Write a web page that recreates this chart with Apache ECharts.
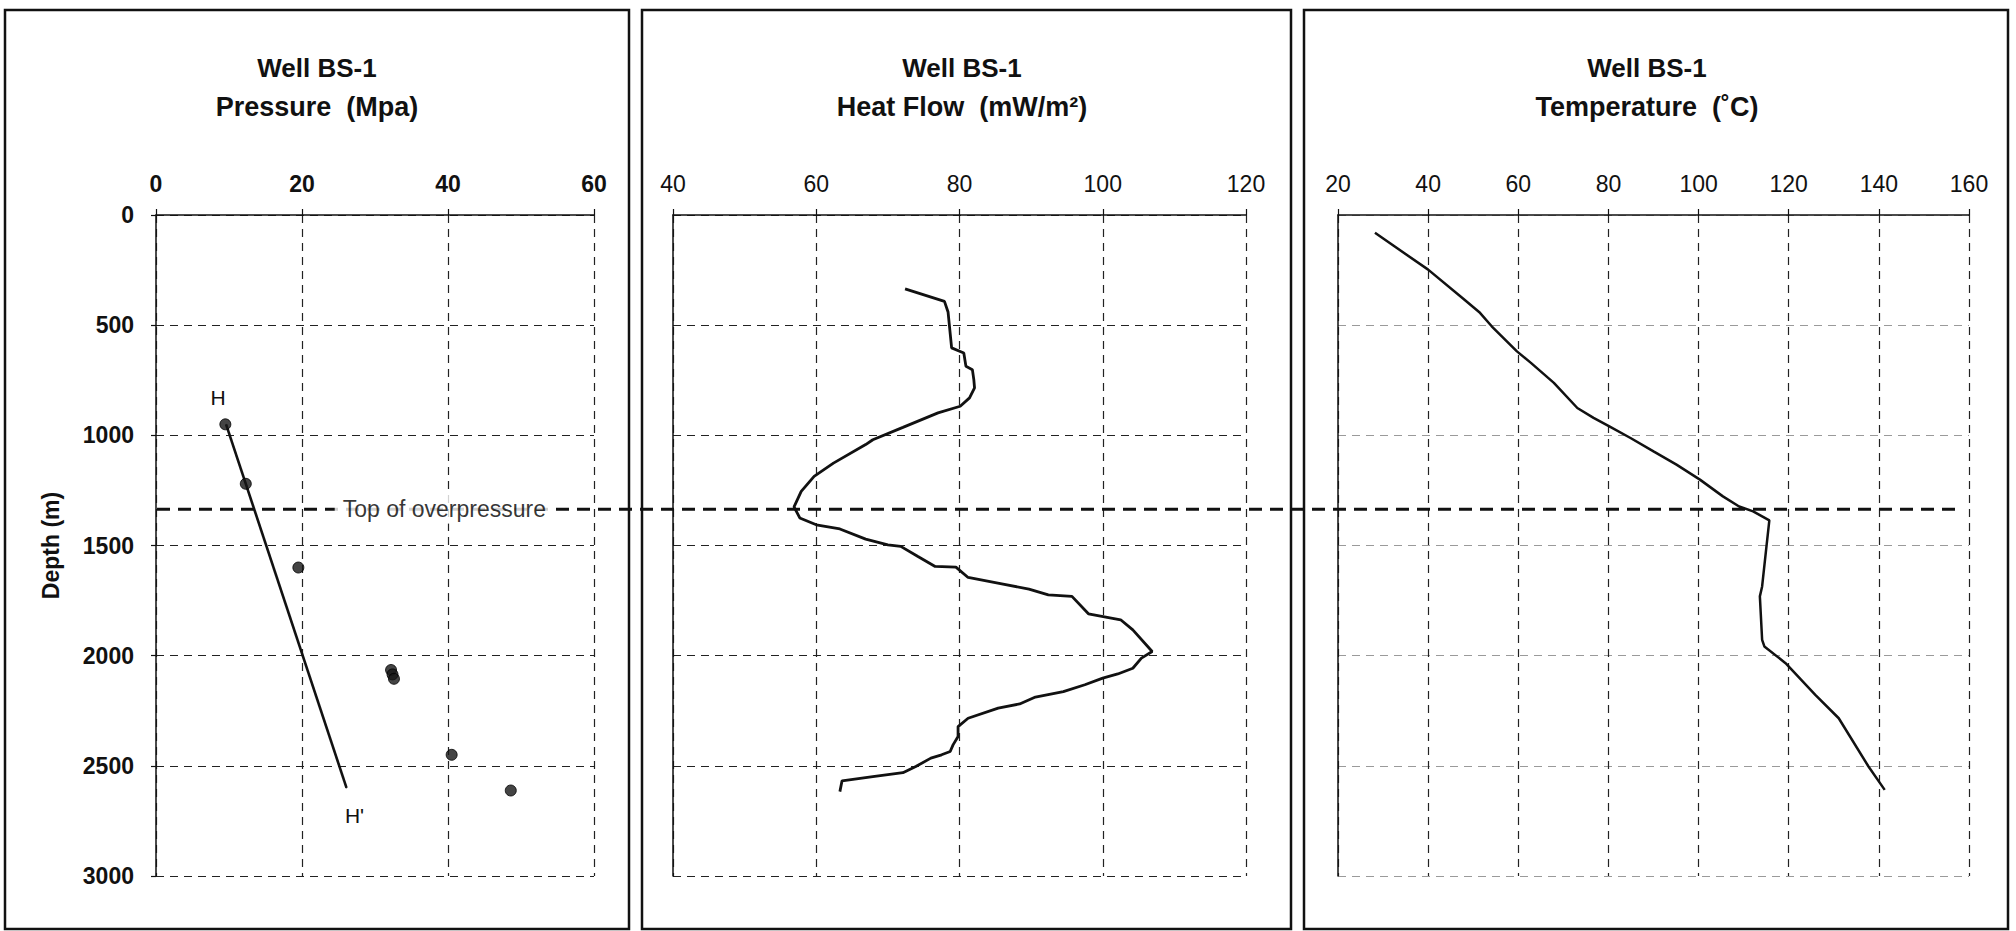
<!DOCTYPE html>
<html>
<head>
<meta charset="utf-8">
<script src="https://cdn.jsdelivr.net/npm/echarts@6/dist/echarts.min.js"></script>
<style>
  html, body { margin: 0; padding: 0; background: #fff; }
  #chart { width: 2016px; height: 931px; }
</style>
</head>
<body>
<div id="chart"></div>
<script>
// ---- Well BS-1 logs ----
const wellName = 'Well BS-1';
const panelTitles = ['Pressure  (Mpa)', 'Heat Flow  (mW/m\u00B2)', 'Temperature  (\u02DAC)'];
const depthAxisName = 'Depth (m)';

// axis ranges: [min, max, interval]
const depthRange = [0, 3000, 500];
const pressureRange = [0, 60, 20];
const heatFlowRange = [40, 120, 20];
const temperatureRange = [20, 160, 20];

// measured pore pressure (MPa) vs depth (m)
const pressureValues = [9.5, 12.3, 19.5, 32.2, 32.4, 32.6, 40.5, 48.6];
const pressureDepths = [950, 1220, 1600, 2065, 2085, 2105, 2450, 2612];

// hydrostatic trend H - H'
const hydroValues = [9.6, 26.1];
const hydroDepths = [950, 2600];
const hydroLabels = ['H', "H'"];

// top of overpressure (m)
const overpressureTop = 1335;
const overpressureLabel = 'Top of overpressure';

// heat flow (mW/m2) vs depth (m)
const heatFlowValues = [72.4, 77.9, 78.4, 78.9, 80.6, 80.9, 81.8, 82.0, 82.1, 81.4, 80.1, 77.0, 72.1, 67.9,
  66.9, 62.4, 59.7, 57.9, 56.9, 57.7, 60.0, 63.3, 66.9, 70.0, 71.8, 74.2, 76.6, 79.5, 81.2, 85.9, 89.7,
  92.4, 95.7, 98.0, 102.5, 104.2, 106.9, 105.4, 104.2, 102.1, 100.0, 97.5, 94.5, 90.6, 88.4, 85.4, 81.2,
  79.8, 79.8, 79.1, 78.7, 77.5, 76.0, 73.9, 72.1, 67.9, 63.6, 63.3];
const heatFlowDepths = [335, 392, 440, 603, 626, 687, 702, 747, 785, 830, 868, 898, 964, 1020,
  1042, 1126, 1186, 1254, 1325, 1375, 1406, 1425, 1471, 1497, 1504, 1550, 1595, 1598, 1645, 1674, 1698,
  1724, 1731, 1810, 1837, 1883, 1981, 2011, 2057, 2083, 2102, 2132, 2163, 2188, 2219, 2238, 2284,
  2322, 2367, 2405, 2435, 2450, 2465, 2503, 2531, 2549, 2568, 2617];

// temperature (deg C) vs depth (m)
const temperatureValues = [28.2, 40.0, 47.8, 51.5, 54.1, 59.7, 62.8, 67.9, 73.1, 76.7, 80.2, 84.9, 90.0,
  95.1, 100.3, 105.4, 109.0, 112.1, 115.7, 115.1, 114.1, 113.6, 114.1, 114.6, 119.3, 125.9, 131.1, 137.7, 141.3];
const temperatureDepths = [81, 248, 380, 444, 505, 619, 671, 762, 876, 921, 959, 1012, 1073,
  1133, 1201, 1277, 1323, 1345, 1386, 1497, 1686, 1731, 1928, 1958, 2034, 2178, 2284, 2503, 2609];

// ---- layout ----
const FONT = '"Liberation Sans", Arial, sans-serif';
const INK = '#111';
const plotTop = 215, plotHeight = 661;
const grids = [
  { left: 156, top: plotTop, width: 438, height: plotHeight },
  { left: 673, top: plotTop, width: 573, height: plotHeight },
  { left: 1338, top: plotTop, width: 631, height: plotHeight },
  { left: 157, top: plotTop, width: 1805, height: plotHeight }   // overlay for the overpressure line
].map(g => Object.assign({ outerBoundsMode: 'none', containLabel: false }, g));

const frames = [[5, 624], [642, 649], [1304, 704]];
const titleCenters = [317, 962, 1647];
const zip = (xs, ys) => xs.map((x, i) => [x, ys[i]]);
const plain = v => String(v);

function xAxisFor(gridIndex, range, bold) {
  return {
    type: 'value', gridIndex, position: 'top',
    min: range[0], max: range[1], interval: range[2],
    axisLine: { show: true, onZero: false, lineStyle: { color: INK, width: 1.5 } },
    axisTick: { show: true, inside: false, length: 6, lineStyle: { color: INK, width: 1.2 } },
    axisLabel: { margin: 20, fontSize: 23, fontWeight: bold ? 'bold' : 'normal', color: INK, fontFamily: FONT, formatter: plain },
    splitLine: { show: true, lineStyle: { type: [8, 6], color: '#222', width: 1.2 } }
  };
}
function yAxisFor(gridIndex, withLabels, gridColor) {
  return {
    type: 'value', gridIndex, inverse: true,
    min: depthRange[0], max: depthRange[1], interval: depthRange[2],
    name: withLabels ? depthAxisName : '',
    nameLocation: 'middle', nameRotate: 90, nameGap: 94,
    nameTextStyle: { fontSize: 23, fontWeight: 'bold', color: INK, fontFamily: FONT },
    axisLine: { show: true, onZero: false, lineStyle: { color: INK, width: 1.5 } },
    axisTick: { show: withLabels, length: 5, lineStyle: { color: INK, width: 1.2 } },
    axisLabel: { show: withLabels, margin: 22, fontSize: 23, fontWeight: 'bold', color: INK, fontFamily: FONT, formatter: plain },
    splitLine: { show: true, lineStyle: { type: [8, 6], color: gridColor || '#222', width: 1.2 } }
  };
}

const graphics = [];
frames.forEach(f => graphics.push({
  type: 'rect', silent: true, z: 0,
  shape: { x: f[0], y: 10, width: f[1], height: 919 },
  style: { fill: 'none', stroke: INK, lineWidth: 2.5 }
}));
panelTitles.forEach((t, i) => {
  graphics.push({
    type: 'text', silent: true, x: titleCenters[i], y: 68,
    style: { text: wellName, fontSize: 26, fontWeight: 'bold', fontFamily: FONT, fill: INK, align: 'center', verticalAlign: 'middle' }
  });
  graphics.push({
    type: 'text', silent: true, x: titleCenters[i], y: 107,
    style: { text: t, fontSize: 27, fontWeight: 'bold', fontFamily: FONT, fill: INK, align: 'center', verticalAlign: 'middle' }
  });
});

const hydroData = zip(hydroValues, hydroDepths).map((v, i) => ({
  value: v,
  label: {
    show: true, formatter: hydroLabels[i], position: 'inside',
    offset: i === 0 ? [-8, -27] : [8, 28],
    fontSize: 21, color: INK, fontFamily: FONT
  }
}));

const option = {
  animation: false,
  backgroundColor: '#fff',
  grid: grids,
  xAxis: [
    xAxisFor(0, pressureRange, true),
    xAxisFor(1, heatFlowRange, false),
    xAxisFor(2, temperatureRange, false),
    { type: 'value', gridIndex: 3, min: 0, max: 1, show: false }
  ],
  yAxis: [
    yAxisFor(0, true),
    yAxisFor(1, false),
    yAxisFor(2, false, '#9a9a9a'),
    { type: 'value', gridIndex: 3, inverse: true, min: depthRange[0], max: depthRange[1], show: false }
  ],
  graphic: graphics,
  series: [
    {
      type: 'line', xAxisIndex: 3, yAxisIndex: 3, z: 3, silent: true,
      data: [[0, overpressureTop], [1, overpressureTop]], symbol: 'none',
      lineStyle: { color: INK, width: 3, type: [13, 8] }
    },
    {
      type: 'line', xAxisIndex: 0, yAxisIndex: 0, z: 4, silent: true,
      data: hydroData, symbol: 'circle', symbolSize: 1,
      itemStyle: { color: INK }, lineStyle: { color: INK, width: 2.6 }
    },
    {
      type: 'scatter', xAxisIndex: 0, yAxisIndex: 0, z: 5, silent: true,
      data: zip(pressureValues, pressureDepths), symbol: 'circle', symbolSize: 11,
      itemStyle: { color: '#151515', borderColor: '#000', borderWidth: 1 }
    },
    {
      type: 'scatter', xAxisIndex: 0, yAxisIndex: 0, z: 10, silent: true,
      data: [[39.5, overpressureTop]], symbolSize: 0,
      label: {
        show: true, position: 'inside', formatter: overpressureLabel,
        fontSize: 23, color: '#000', fontFamily: FONT,
        textBorderWidth: 0,
        backgroundColor: '#fff', padding: [3, 8]
      }
    },
    {
      type: 'line', xAxisIndex: 1, yAxisIndex: 1, z: 4, silent: true,
      data: zip(heatFlowValues, heatFlowDepths), symbol: 'none',
      lineStyle: { color: INK, width: 2.8 }
    },
    {
      type: 'line', xAxisIndex: 2, yAxisIndex: 2, z: 4, silent: true,
      data: zip(temperatureValues, temperatureDepths), symbol: 'none',
      lineStyle: { color: INK, width: 2.5 }
    }
  ]
};

const chart = echarts.init(document.getElementById('chart'), null, { renderer: 'svg' });
chart.setOption(option);
</script>
</body>
</html>
